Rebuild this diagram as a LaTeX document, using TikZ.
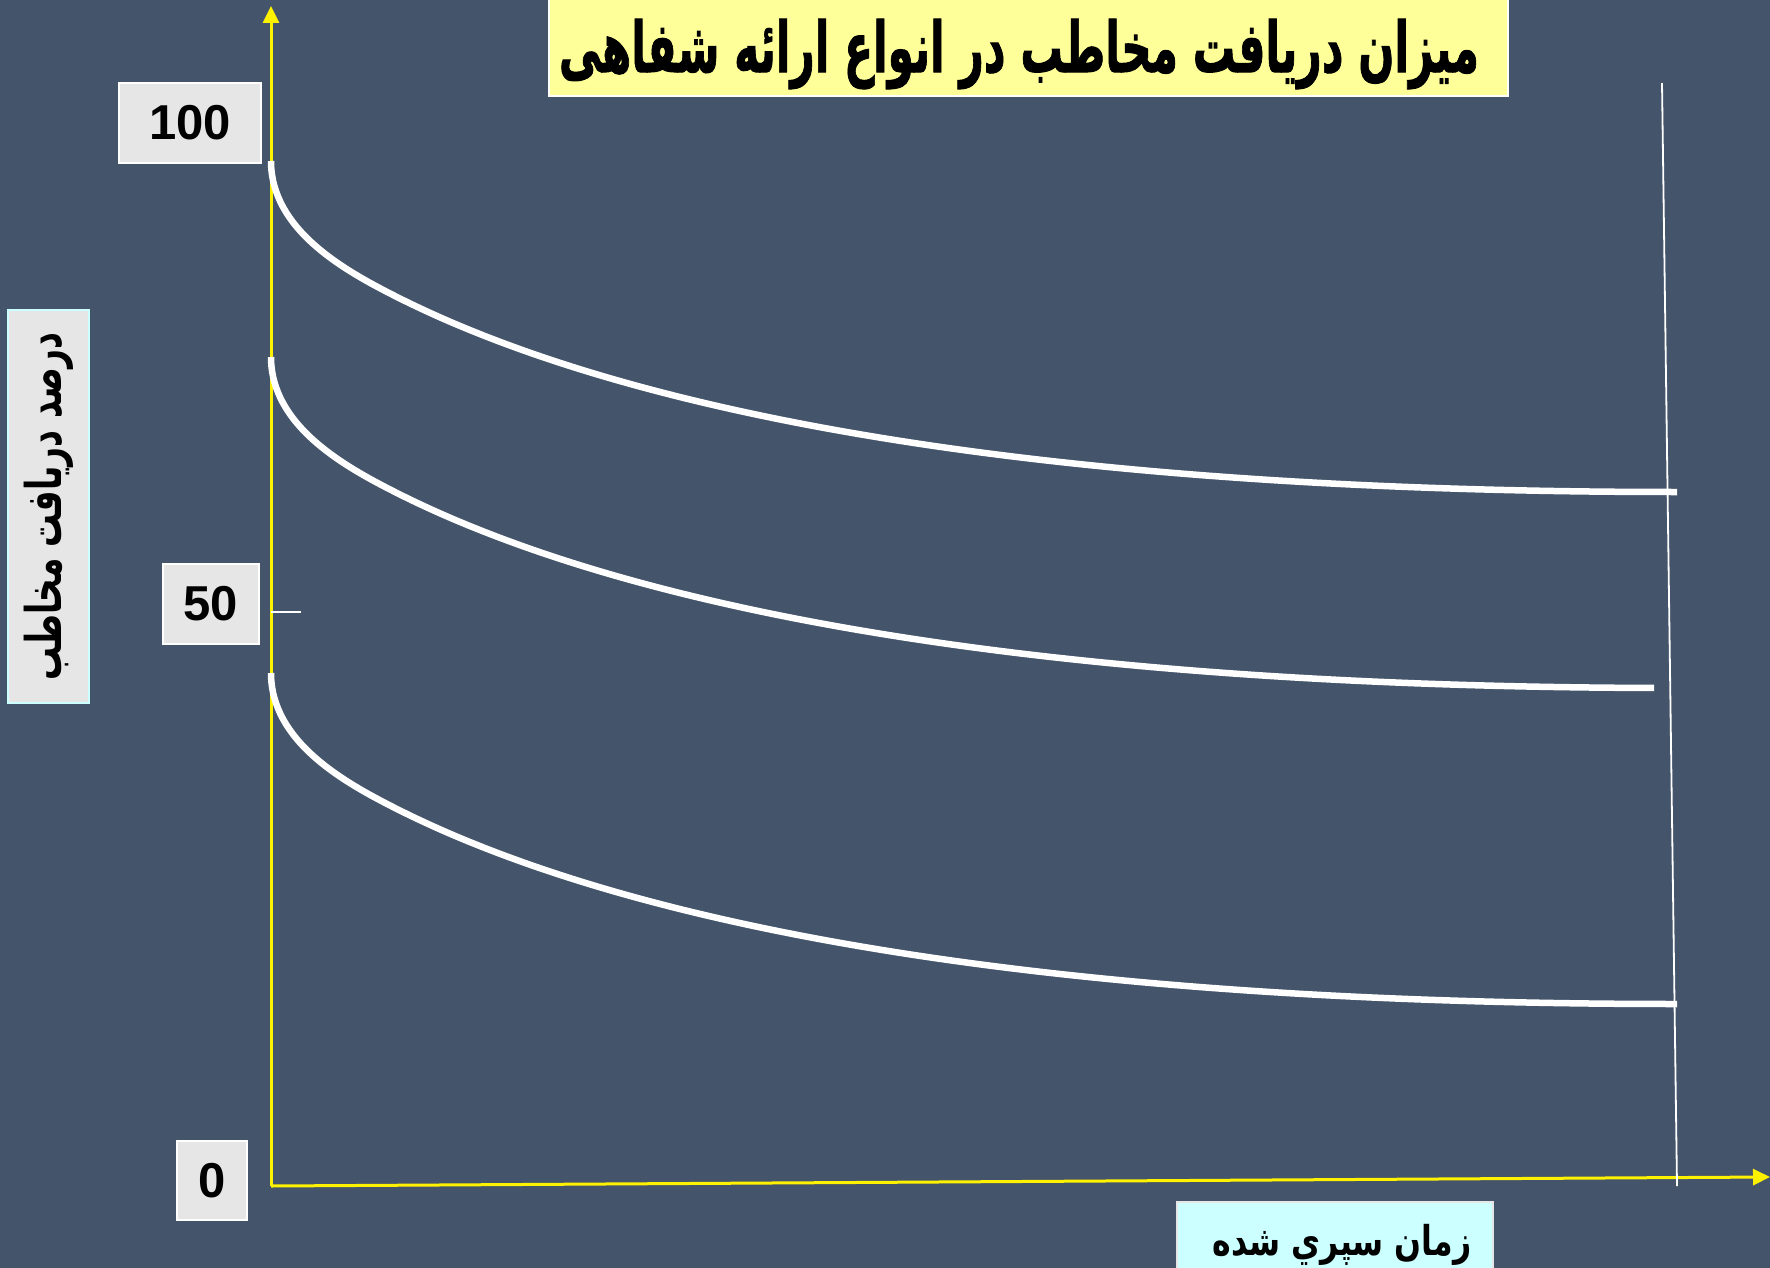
\documentclass[tikz,border=0pt]{standalone}
\usepackage{fontspec}
\setmainfont{Liberation Sans}
\newfontfamily\arabicfont[Script=Arabic]{DejaVu Sans}
\newfontface\arabicheavy[Script=Arabic,FakeBold=1.5]{DejaVu Sans Bold}
\TeXXeTstate=1
\usetikzlibrary{arrows.meta}
\definecolor{bgc}{HTML}{44546A}
\definecolor{titlefill}{HTML}{FFFF99}
\definecolor{labgray}{HTML}{E6E6E6}
\definecolor{labcyan}{HTML}{CCFFFF}
\tikzset{
  axis/.style={draw=yellow, line width=3pt, -{Triangle[width=16pt,length=17pt]}},
  curveline/.style={draw=white, line width=6.5pt},
  thinwhite/.style={draw=white, line width=1.8pt},
  numbox/.style={draw=white, line width=2pt, fill=labgray, inner sep=0pt,
     font=\fontsize{49}{55}\selectfont\bfseries},
  titlebox/.style={draw=white, line width=2pt, fill=titlefill, inner sep=0pt},
}
\begin{document}
\begin{tikzpicture}[x=1pt,y=-1pt]
\fill[bgc] (0,0) rectangle (1770,1268);
\useasboundingbox (0,0) rectangle (1770,1268);

% title
\node[titlebox, minimum width=959pt, minimum height=104pt] (title) at (1028.5,44) {};
\node[inner sep=0pt] (titlet) at (1019,54)
  {\scalebox{1}[1.65]{\resizebox{920pt}{!}{\arabicheavy\beginR میزان دریافت مخاطب در انواع ارائه شفاهی\endR}}};

% number boxes
\node[numbox, minimum width=142pt, minimum height=80pt] (n100) at (190,123) {100};
\node[numbox, minimum width=96pt, minimum height=80pt] (n50) at (211,604) {50};
\node[numbox, minimum width=70pt, minimum height=79pt] (n0) at (212,1180.5) {0};

% y label
\node[draw=labcyan, line width=2pt, fill=labgray, rotate=90, inner sep=0pt,
      minimum width=393pt, minimum height=81pt] (ylab) at (48.5,506.5)
  {\scalebox{1}[1.5]{\resizebox{348pt}{!}{\arabicfont\bfseries\beginR درصد دریافت مخاطب\endR}}};

% x label
\node[draw=labgray, line width=2pt, fill=labcyan, inner sep=0pt,
      minimum width=316pt, minimum height=88pt] (xlab) at (1335,1246) {};
\node[inner sep=0pt, anchor=north] (xlabt) at (1342,1224)
  {\scalebox{1}[1.3]{\resizebox{259pt}{!}{\arabicfont\bfseries\beginR زمان سپري شده\endR}}};

% axes
\coordinate (O) at (271,1186);
\coordinate (ytop) at (271,6);
\coordinate (xend) at (1770,1177);
\draw[axis] (O) -- (ytop);
\draw[axis] (O) -- (xend);

% tick at 50
\coordinate (t1) at (271,612);
\coordinate (t2) at (301,612);
\draw[white, line width=1.5pt] (t1) -- (t2);

% right vertical line
\coordinate (v1) at (1662,83);
\coordinate (v2) at (1677,1186);
\draw[thinwhite] (v1) -- (v2);

% curves
\foreach \dy in {0,512}{
  \draw[curveline, shift={(0,\dy)}] (271,161) .. controls (271,229) and (343,269.5) .. (393,295)
     .. controls (593,397) and (971,492) .. (1677,492);
}
\begin{scope}
\clip (0,0) rectangle (1654,1268);
  \draw[curveline, shift={(0,196)}] (271,161) .. controls (271,229) and (343,269.5) .. (393,295)
     .. controls (593,397) and (971,492) .. (1677,492);
\end{scope}
\end{tikzpicture}
\end{document}
